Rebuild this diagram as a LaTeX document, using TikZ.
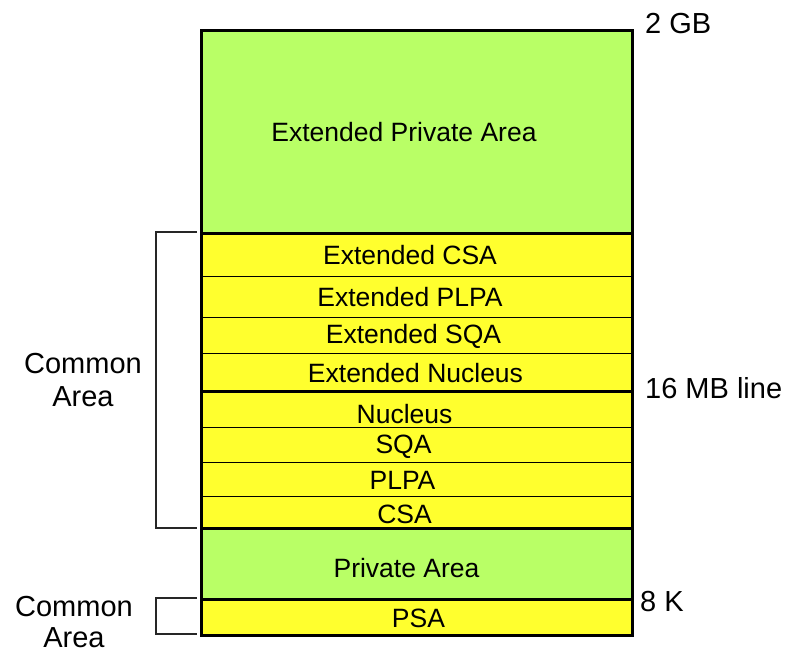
\documentclass[tikz,border=0pt]{standalone}
\usepackage{fontspec}
\setmainfont{Liberation Sans}
\definecolor{areagreen}{RGB}{185,255,102}
\definecolor{areayellow}{RGB}{255,255,46}
\tikzset{
  band/.style={draw=black, line width=1.3pt, minimum width=430pt, inner sep=0pt,
               anchor=north},
  greenband/.style={band, fill=areagreen},
  yellowband/.style={band, fill=areayellow},
  bandtext/.style={font=\fontsize{26.5}{30}\selectfont, inner sep=0pt},
  % band caption at the centre of the band, nudged by (dx,dy)
  bandlabel/.style n args={3}{label={[bandtext, xshift=#1pt, yshift=#2pt]center:#3}},
  heavy/.style={line width=3pt},
  sidelabel/.style={font=\fontsize{29}{34}\selectfont, inner sep=0pt},
  bracket/.style={draw=black!85, line width=1.2pt},
}
\begin{document}
\begin{tikzpicture}[x=1pt, y=-1pt]
\useasboundingbox (0,0) rectangle (788,653);

% memory map, top (2 GB) to bottom (0)
\node[greenband,  minimum height=203pt, bandlabel={-13}{0}{Extended Private Area}]  (epa)   at (417,30)  {};
\node[yellowband, minimum height=43pt,  bandlabel={-7}{0}{Extended CSA}]            (ecsa)  at (417,233) {};
\node[yellowband, minimum height=41pt,  bandlabel={-7}{0}{Extended PLPA}]           (eplpa) at (417,276) {};
\node[yellowband, minimum height=36pt,  bandlabel={-3.5}{-1}{Extended SQA}]         (esqa)  at (417,317) {};
\node[yellowband, minimum height=38pt,  bandlabel={-1.5}{0}{Extended Nucleus}]      (enuc)  at (417,353) {};
\node[yellowband, minimum height=36pt,  bandlabel={-12.5}{-4}{Nucleus}]             (nuc)   at (417,391) {};
\node[yellowband, minimum height=35pt,  bandlabel={-13.5}{-2}{SQA}]                 (sqa)   at (417,427) {};
\node[yellowband, minimum height=34pt,  bandlabel={-14.5}{-0.5}{PLPA}]              (plpa)  at (417,462) {};
\node[yellowband, minimum height=32pt,  bandlabel={-12.5}{-1.5}{CSA}]               (csa)   at (417,496) {};
\node[greenband,  minimum height=71pt,  bandlabel={-10.5}{-3.5}{Private Area}]      (pa)    at (417,528) {};
\node[yellowband, minimum height=35pt,  bandlabel={1.5}{-1.5}{PSA}]                 (psa)   at (417,599) {};

% heavy boundaries and outline
\draw[heavy] (ecsa.north west) -- (ecsa.north east);
\draw[heavy] (nuc.north west) -- (nuc.north east);
\draw[heavy] (pa.north west) -- (pa.north east);
\draw[heavy] (psa.north west) -- (psa.north east);
\draw[heavy] (epa.north west) rectangle (psa.south east);

% address labels
\node[sidelabel, anchor=west] (gb)   at (645,24)  {2 GB};
\node[sidelabel, anchor=west] (mb16) at (645,388) {16 MB line};
\node[sidelabel, anchor=west] (k8)   at (640,602) {8 K};

% common area brackets
\coordinate (ctop) at (197,232);
\coordinate (cbot) at (197,528);
\draw[bracket] (ctop) -- (156,232) -- (156,528) -- (cbot);
\coordinate (ptop) at (197,598);
\coordinate (pbot) at (197,634);
\draw[bracket] (ptop) -- (156,598) -- (156,634) -- (pbot);

\node[sidelabel, align=center] (common1) at (83,380)
  {Common\\[-1pt]Area};
\node[sidelabel, align=center] (common2) at (74,622)
  {Common\\[-3pt]Area};
\end{tikzpicture}
\end{document}
